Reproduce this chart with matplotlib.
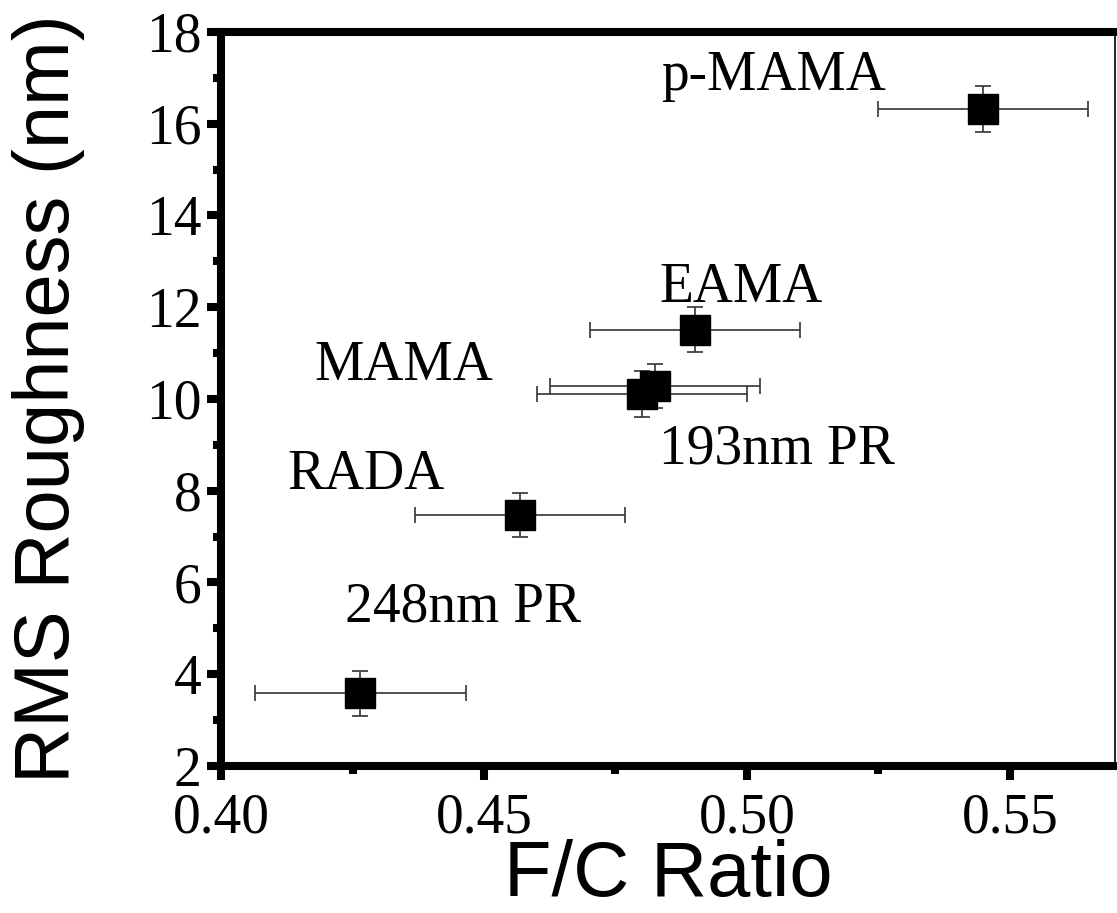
import matplotlib.pyplot as plt
from matplotlib.ticker import MultipleLocator, FormatStrFormatter

# ── Data ──────────────────────────────────────────────────────────
labels  = ["248nm PR", "RADA", "MAMA", "193nm PR", "EAMA", "p-MAMA"]
fc      = [0.4265, 0.4568, 0.4800, 0.4825, 0.4901, 0.5449]
rms     = [3.59, 7.47, 10.10, 10.28, 11.51, 16.33]
fc_err  = [0.020, 0.020, 0.020, 0.020, 0.020, 0.020]
rms_err = [0.49, 0.48, 0.50, 0.48, 0.49, 0.50]

# label anchors in data coords (horizontal centre, text baseline)
label_x = [0.4461, 0.4276, 0.4347, 0.5057, 0.4989, 0.5051]
label_y = [5.14, 8.03, 10.41, 8.60, 12.11, 16.73]

serif = ["Liberation Serif", "DejaVu Serif"]
sans  = ["Liberation Sans", "DejaVu Sans"]

fig = plt.figure(figsize=(11.17, 9.13), dpi=100)
ax = fig.add_axes([0.1979, 0.161, 0.8003, 0.804])

ax.errorbar(fc, rms, xerr=fc_err, yerr=rms_err, fmt="none",
            ecolor="#333333", elinewidth=1.2, capsize=5.5, capthick=1.2,
            zorder=2)
ax.plot(fc, rms, "s", color="black", markersize=21.5, zorder=3)

for name, lx, ly in zip(labels, label_x, label_y):
    ax.text(lx, ly, name, ha="center", va="baseline",
            fontsize=40, family=serif)

ax.set_xlim(0.40, 0.57)
ax.set_ylim(2, 18)
ax.xaxis.set_major_locator(MultipleLocator(0.05))
ax.xaxis.set_minor_locator(MultipleLocator(0.025))
ax.yaxis.set_major_locator(MultipleLocator(2))
ax.yaxis.set_minor_locator(MultipleLocator(1))
ax.xaxis.set_major_formatter(FormatStrFormatter("%.2f"))
ax.yaxis.set_major_formatter(FormatStrFormatter("%d"))

for side in ["left", "bottom", "top"]:
    ax.spines[side].set_linewidth(5.8)
ax.spines["right"].set_linewidth(1.2)

ax.tick_params(which="both", direction="out", top=False, right=False)
ax.tick_params(which="major", length=10, width=5.8)
ax.tick_params(which="minor", length=6, width=5.8)
ax.tick_params(axis="x", which="major", pad=9)
ax.tick_params(axis="y", which="major", pad=4)
for lab in ax.get_xticklabels() + ax.get_yticklabels():
    lab.set_family(serif)
    lab.set_fontsize(40)

ax.set_xlabel("F/C Ratio", fontsize=56, family=sans, labelpad=-4)
ax.set_ylabel("RMS Roughness (nm)", fontsize=56, family=sans, labelpad=44)

fig.savefig("out.png", dpi=100)
